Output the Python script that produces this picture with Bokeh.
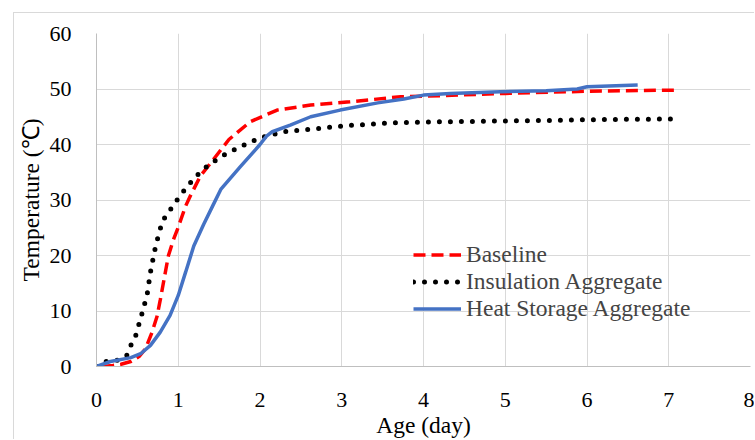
from bokeh.plotting import figure
from bokeh.models import Legend, LegendItem, Range1d, FixedTicker
from bokeh.embed import file_html
from bokeh.resources import INLINE

# Data
base_x = [0.07, 0.2, 0.3, 0.42, 0.52, 0.6, 0.68, 0.74, 0.78, 0.83, 0.88, 0.94, 0.99, 1.09, 1.15, 1.27,
          1.43, 1.62, 1.88, 2.21, 2.62, 3.1, 3.72, 4.0, 5.0, 6.0, 7.1]
base_t = [0, 0.2, 0.4, 0.9, 1.8, 3.2, 6.2, 9, 12, 16, 20, 22.8, 24.7, 28.9, 30.8, 34.3,
          37.3, 40.9, 44.1, 46.2, 47.1, 47.7, 48.6, 48.7, 49.2, 49.6, 49.8]

ins_x = [0, 0.11, 0.25, 0.37, 0.42, 0.48, 0.55, 0.62, 0.66, 0.71, 0.77, 0.82, 0.89, 0.97, 1.05, 1.13,
         1.22, 1.31, 1.52, 1.76, 2.0, 2.29, 2.65, 3.07, 3.6, 4.25, 5.35, 6.2, 7.07]
ins_t = [0, 0.9, 1.1, 2, 3.8, 5.6, 9.2, 13, 17, 20.8, 24.4, 26.5, 28, 29.7, 31.3, 32.8,
         34.3, 35.6, 37.8, 39.6, 41.2, 42.3, 42.8, 43.4, 43.9, 44.1, 44.3, 44.5, 44.6]

heat_x = [0, 0.17, 0.42, 0.54, 0.66, 0.78, 0.9, 1.0, 1.09, 1.19, 1.31, 1.42, 1.52, 1.76, 2.0, 2.08,
          2.15, 2.37, 2.62, 2.98, 3.44, 3.76, 4.0, 4.33, 4.94, 5.5, 5.88, 6.0, 6.62]
heat_t = [0, 0.9, 1.6, 2.3, 3.8, 6.2, 9.2, 12.8, 17, 21.7, 25.6, 28.9, 31.9, 36, 40, 41.5,
          42.3, 43.5, 45, 46.2, 47.5, 48.2, 48.9, 49.2, 49.5, 49.7, 50, 50.4, 50.7]

x_ticks = [0, 1, 2, 3, 4, 5, 6, 7, 8]
y_ticks = [0, 10, 20, 30, 40, 50, 60]

FONT = "Liberation Serif"

p = figure(width=741, height=427, output_backend="svg", toolbar_location=None,
           x_range=Range1d(0, 8), y_range=Range1d(0, 60),
           min_border_left=82, min_border_right=5, min_border_top=20, min_border_bottom=72,
           background_fill_color="white", border_fill_color="white")
p.styles = {"margin-left": "13px", "margin-top": "12px",
            "border-left": "1px solid #d9d9d9", "border-top": "1px solid #d9d9d9"}
p.stylesheets = [":host { border-left: 1px solid #d9d9d9 !important; "
                 "border-top: 1px solid #d9d9d9 !important; }"]
p.outline_line_color = None

p.xaxis.ticker = FixedTicker(ticks=x_ticks)
p.yaxis.ticker = FixedTicker(ticks=y_ticks)
for ax in (p.xaxis[0], p.yaxis[0]):
    ax.major_tick_line_color = None
    ax.minor_tick_line_color = None
    ax.axis_line_color = "#bfbfbf"
    ax.axis_line_width = 1
    ax.major_label_text_font = FONT
    ax.major_label_text_font_size = "22px"
    ax.major_label_text_color = "black"
    ax.axis_label_text_font = FONT
    ax.axis_label_text_font_size = "23.5px"
    ax.axis_label_text_font_style = "normal"
    ax.axis_label_text_color = "black"
p.xaxis.major_label_standoff = 20
p.yaxis.major_label_standoff = 19
p.xaxis.axis_label = "Age (day)"
p.yaxis.axis_label = "Temperature (℃)"
p.xaxis.axis_label_standoff = 2
p.yaxis.axis_label_standoff = 3

p.xgrid.grid_line_color = "#d9d9d9"
p.ygrid.grid_line_color = "#d9d9d9"
p.xgrid.ticker = FixedTicker(ticks=x_ticks)
p.ygrid.ticker = FixedTicker(ticks=y_ticks)

r_base = p.line(base_x, base_t, line_color="#ff0000", line_width=3.5, line_dash="12 6")
r_ins = p.line(ins_x, ins_t, line_color="black", line_width=5, line_dash="0 11", line_cap="round")
r_heat = p.line(heat_x, heat_t, line_color="#4472c4", line_width=3.5)

legend = Legend(items=[LegendItem(label="Baseline", renderers=[r_base]),
                       LegendItem(label="Insulation Aggregate", renderers=[r_ins]),
                       LegendItem(label="Heat Storage Aggregate", renderers=[r_heat])],
                location=(317, 44), padding=0, margin=0, spacing=0,
                label_height=27, glyph_height=27, glyph_width=48, label_standoff=5,
                label_text_font=FONT, label_text_font_size="23.5px",
                background_fill_alpha=0, border_line_color=None)
p.add_layout(legend, "center")

open("out.html", "w").write(file_html(p, INLINE))
